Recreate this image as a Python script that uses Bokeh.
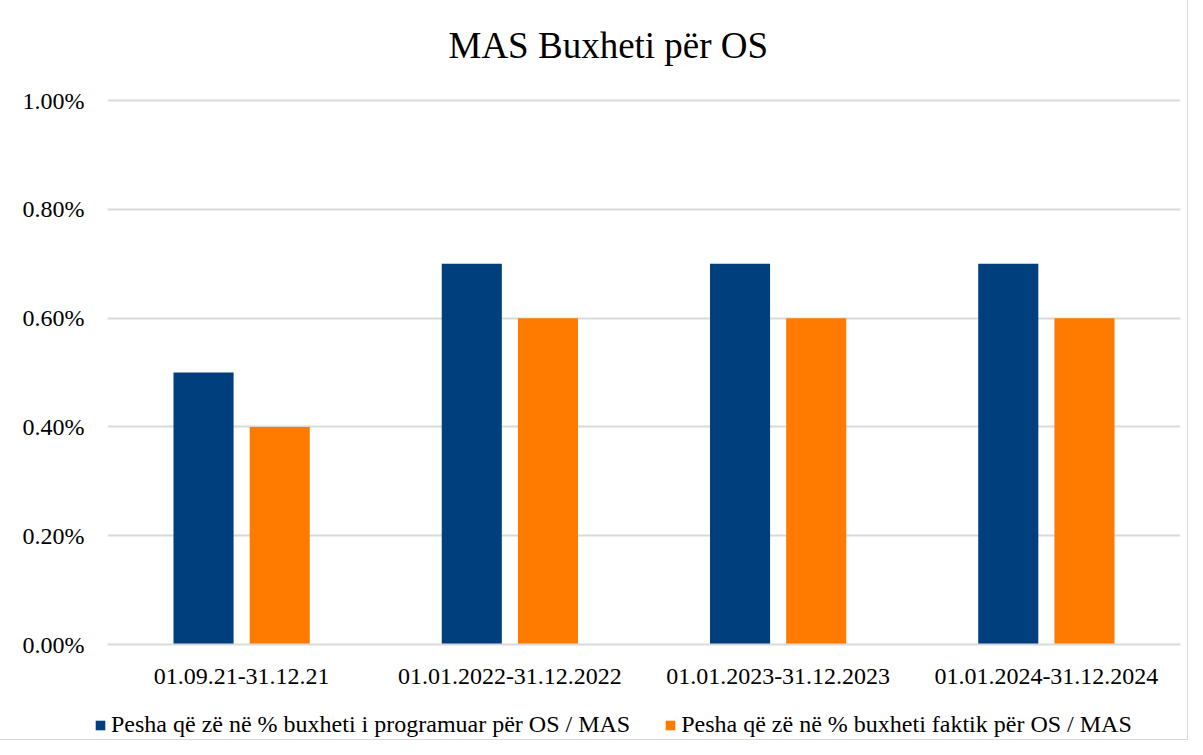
from bokeh.plotting import figure
from bokeh.layouts import column
from bokeh.models import ColumnDataSource, FactorRange, Range1d, NumeralTickFormatter, Legend, LegendItem, Title
from bokeh.transform import dodge
from bokeh.embed import file_html
from bokeh.resources import INLINE

categories = ["01.09.21-31.12.21", "01.01.2022-31.12.2022", "01.01.2023-31.12.2023", "01.01.2024-31.12.2024"]
programuar = [0.005, 0.007, 0.007, 0.007]
faktik = [0.004, 0.006, 0.006, 0.006]
series_names = ["Pesha që zë në % buxheti i programuar për OS / MAS",
                "Pesha që zë në % buxheti faktik për OS / MAS"]
title_text = "MAS Buxheti për OS"
y_ticks = [0, 0.002, 0.004, 0.006, 0.008, 0.01]

FONT = "Liberation Serif"
BLUE = "#003F7D"
ORANGE = "#FF7B00"

src = ColumnDataSource(dict(cat=categories, prog=programuar, fakt=faktik))

p = figure(width=1187, height=700, x_range=FactorRange(*categories, range_padding=0),
           y_range=Range1d(0, 0.01004), output_backend="svg", toolbar_location=None,
           title=None,
           min_border_left=107, min_border_right=7, min_border_top=98, min_border_bottom=56)
p.frame_align = False

r1 = p.vbar(x=dodge("cat", -0.142, range=p.x_range), top="prog", width=0.224, source=src,
            fill_color=BLUE, line_color=None)
r2 = p.vbar(x=dodge("cat", 0.142, range=p.x_range), top="fakt", width=0.224, source=src,
            fill_color=ORANGE, line_color=None)

# spacer between title and plot area, then the title itself
spacer = Title(text=" ", text_font_size="1px", standoff=11)
p.add_layout(spacer, "above")
main_title = Title(text=title_text, text_font=FONT, text_font_size="37px",
                   text_font_style="normal", text_color="#000000",
                   align="left", offset=341, standoff=38)
p.add_layout(main_title, "above")

p.outline_line_color = None
p.xgrid.grid_line_color = None
p.ygrid.grid_line_color = "#d9d9d9"
p.ygrid.grid_line_width = 2

p.yaxis.ticker = y_ticks
p.yaxis.formatter = NumeralTickFormatter(format="0.00%")
p.yaxis.axis_line_color = None
p.yaxis.major_tick_line_color = None
p.yaxis.minor_tick_line_color = None
p.yaxis.major_label_standoff = 17
p.yaxis.major_label_text_font = FONT
p.yaxis.major_label_text_font_size = "24px"
p.yaxis.major_label_text_color = "#000000"

p.xaxis.axis_line_color = "#d9d9d9"
p.xaxis.axis_line_width = 2
p.xaxis.major_tick_line_color = None
p.xaxis.minor_tick_line_color = None
p.xaxis.major_label_standoff = 18
p.xaxis.major_label_text_font = FONT
p.xaxis.major_label_text_font_size = "24px"
p.xaxis.major_label_text_color = "#000000"

# legend strip below the chart (same series, drawn outside its visible y range)
lg = figure(width=1187, height=39, x_range=p.x_range, y_range=Range1d(1, 2),
            output_backend="svg", toolbar_location=None, x_axis_type=None, y_axis_type=None,
            min_border_left=0, min_border_right=0, min_border_top=0, min_border_bottom=0)
lg.frame_align = False
lg.outline_line_color = None
lg.grid.visible = False
l1 = lg.vbar(x=dodge("cat", -0.142, range=p.x_range), top="prog", width=0.224, source=src,
             fill_color=BLUE, line_color=None)
l2 = lg.vbar(x=dodge("cat", 0.142, range=p.x_range), top="fakt", width=0.224, source=src,
             fill_color=ORANGE, line_color=None)

legend = Legend(items=[LegendItem(label=series_names[0], renderers=[l1]),
                       LegendItem(label=series_names[1], renderers=[l2])],
                orientation="horizontal", location=(94, 1))
legend.label_text_font = FONT
legend.label_text_font_size = "24px"
legend.label_text_color = "#000000"
legend.label_height = 24
legend.glyph_width = 12
legend.glyph_height = 12
legend.label_standoff = 5
legend.spacing = 34
legend.padding = 2
legend.margin = 0
legend.border_line_color = None
legend.background_fill_alpha = 0
lg.add_layout(legend, "center")

layout = column(p, lg, spacing=0)
layout.styles = {"outline": "1px solid #d9d9d9"}

open("out.html", "w").write(file_html(layout, INLINE))
